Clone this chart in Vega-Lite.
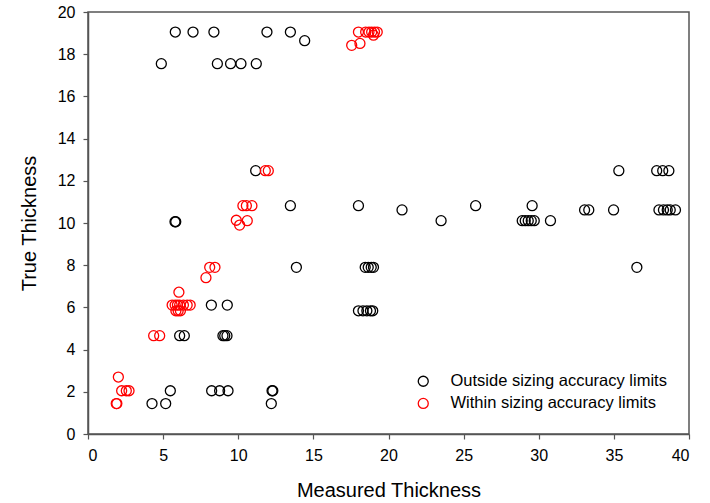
{
  "$schema": "https://vega.github.io/schema/vega-lite/v6.json",
  "width": 601,
  "height": 422,
  "autosize": {"type": "none"},
  "padding": {"left": 88, "top": 12, "right": 21, "bottom": 69},
  "background": "white",
  "config": {
    "font": "Liberation Sans",
    "view": {"stroke": "#555555", "strokeWidth": 1.5},
    "axis": {
      "grid": false,
      "domainColor": "#555555",
      "domainWidth": 1.5,
      "tickColor": "#555555",
      "tickWidth": 1.2,
      "tickSize": 5,
      "labelFont": "Liberation Sans",
      "labelFontSize": 16,
      "labelColor": "black",
      "labelPadding": 8,
      "titleFont": "Liberation Sans",
      "titleFontSize": 20,
      "titleFontWeight": "normal",
      "titleColor": "black"
    }
  },
  "data": {
    "values": [
      {"m": 5.81, "t": 19.05, "g": "Outside sizing accuracy limits"},
      {"m": 6.99, "t": 19.05, "g": "Outside sizing accuracy limits"},
      {"m": 8.38, "t": 19.05, "g": "Outside sizing accuracy limits"},
      {"m": 11.91, "t": 19.05, "g": "Outside sizing accuracy limits"},
      {"m": 13.47, "t": 19.05, "g": "Outside sizing accuracy limits"},
      {"m": 14.42, "t": 18.64, "g": "Outside sizing accuracy limits"},
      {"m": 4.88, "t": 17.55, "g": "Outside sizing accuracy limits"},
      {"m": 8.61, "t": 17.55, "g": "Outside sizing accuracy limits"},
      {"m": 9.49, "t": 17.55, "g": "Outside sizing accuracy limits"},
      {"m": 10.18, "t": 17.55, "g": "Outside sizing accuracy limits"},
      {"m": 11.2, "t": 17.55, "g": "Outside sizing accuracy limits"},
      {"m": 11.16, "t": 12.48, "g": "Outside sizing accuracy limits"},
      {"m": 35.33, "t": 12.48, "g": "Outside sizing accuracy limits"},
      {"m": 37.85, "t": 12.48, "g": "Outside sizing accuracy limits"},
      {"m": 38.25, "t": 12.48, "g": "Outside sizing accuracy limits"},
      {"m": 38.66, "t": 12.48, "g": "Outside sizing accuracy limits"},
      {"m": 13.47, "t": 10.82, "g": "Outside sizing accuracy limits"},
      {"m": 18.0, "t": 10.82, "g": "Outside sizing accuracy limits"},
      {"m": 25.8, "t": 10.82, "g": "Outside sizing accuracy limits"},
      {"m": 29.56, "t": 10.82, "g": "Outside sizing accuracy limits"},
      {"m": 20.9, "t": 10.62, "g": "Outside sizing accuracy limits"},
      {"m": 33.05, "t": 10.62, "g": "Outside sizing accuracy limits"},
      {"m": 33.33, "t": 10.62, "g": "Outside sizing accuracy limits"},
      {"m": 34.98, "t": 10.62, "g": "Outside sizing accuracy limits"},
      {"m": 38.0, "t": 10.62, "g": "Outside sizing accuracy limits"},
      {"m": 38.3, "t": 10.62, "g": "Outside sizing accuracy limits"},
      {"m": 38.55, "t": 10.62, "g": "Outside sizing accuracy limits"},
      {"m": 38.75, "t": 10.62, "g": "Outside sizing accuracy limits"},
      {"m": 39.1, "t": 10.62, "g": "Outside sizing accuracy limits"},
      {"m": 23.5, "t": 10.11, "g": "Outside sizing accuracy limits"},
      {"m": 28.9, "t": 10.11, "g": "Outside sizing accuracy limits"},
      {"m": 29.1, "t": 10.11, "g": "Outside sizing accuracy limits"},
      {"m": 29.3, "t": 10.11, "g": "Outside sizing accuracy limits"},
      {"m": 29.5, "t": 10.11, "g": "Outside sizing accuracy limits"},
      {"m": 29.7, "t": 10.11, "g": "Outside sizing accuracy limits"},
      {"m": 30.78, "t": 10.11, "g": "Outside sizing accuracy limits"},
      {"m": 5.79, "t": 10.06, "g": "Outside sizing accuracy limits"},
      {"m": 5.84, "t": 10.06, "g": "Outside sizing accuracy limits"},
      {"m": 13.87, "t": 7.9, "g": "Outside sizing accuracy limits"},
      {"m": 18.45, "t": 7.9, "g": "Outside sizing accuracy limits"},
      {"m": 18.65, "t": 7.9, "g": "Outside sizing accuracy limits"},
      {"m": 18.85, "t": 7.9, "g": "Outside sizing accuracy limits"},
      {"m": 19.0, "t": 7.9, "g": "Outside sizing accuracy limits"},
      {"m": 36.53, "t": 7.9, "g": "Outside sizing accuracy limits"},
      {"m": 8.21, "t": 6.11, "g": "Outside sizing accuracy limits"},
      {"m": 9.27, "t": 6.11, "g": "Outside sizing accuracy limits"},
      {"m": 18.0, "t": 5.84, "g": "Outside sizing accuracy limits"},
      {"m": 18.3, "t": 5.84, "g": "Outside sizing accuracy limits"},
      {"m": 18.56, "t": 5.84, "g": "Outside sizing accuracy limits"},
      {"m": 18.8, "t": 5.84, "g": "Outside sizing accuracy limits"},
      {"m": 18.95, "t": 5.84, "g": "Outside sizing accuracy limits"},
      {"m": 6.1, "t": 4.66, "g": "Outside sizing accuracy limits"},
      {"m": 6.41, "t": 4.66, "g": "Outside sizing accuracy limits"},
      {"m": 8.98, "t": 4.66, "g": "Outside sizing accuracy limits"},
      {"m": 9.1, "t": 4.66, "g": "Outside sizing accuracy limits"},
      {"m": 9.25, "t": 4.66, "g": "Outside sizing accuracy limits"},
      {"m": 5.48, "t": 2.05, "g": "Outside sizing accuracy limits"},
      {"m": 8.23, "t": 2.05, "g": "Outside sizing accuracy limits"},
      {"m": 8.76, "t": 2.05, "g": "Outside sizing accuracy limits"},
      {"m": 9.32, "t": 2.05, "g": "Outside sizing accuracy limits"},
      {"m": 12.25, "t": 2.05, "g": "Outside sizing accuracy limits"},
      {"m": 12.3, "t": 2.05, "g": "Outside sizing accuracy limits"},
      {"m": 4.26, "t": 1.44, "g": "Outside sizing accuracy limits"},
      {"m": 5.17, "t": 1.44, "g": "Outside sizing accuracy limits"},
      {"m": 12.2, "t": 1.44, "g": "Outside sizing accuracy limits"},
      {"m": 18.0, "t": 19.05, "g": "Within sizing accuracy limits"},
      {"m": 18.48, "t": 19.05, "g": "Within sizing accuracy limits"},
      {"m": 18.7, "t": 19.05, "g": "Within sizing accuracy limits"},
      {"m": 18.88, "t": 19.05, "g": "Within sizing accuracy limits"},
      {"m": 19.07, "t": 19.05, "g": "Within sizing accuracy limits"},
      {"m": 19.25, "t": 19.05, "g": "Within sizing accuracy limits"},
      {"m": 19.0, "t": 18.9, "g": "Within sizing accuracy limits"},
      {"m": 17.55, "t": 18.42, "g": "Within sizing accuracy limits"},
      {"m": 18.1, "t": 18.51, "g": "Within sizing accuracy limits"},
      {"m": 11.8, "t": 12.48, "g": "Within sizing accuracy limits"},
      {"m": 12.0, "t": 12.48, "g": "Within sizing accuracy limits"},
      {"m": 10.31, "t": 10.82, "g": "Within sizing accuracy limits"},
      {"m": 10.54, "t": 10.82, "g": "Within sizing accuracy limits"},
      {"m": 10.91, "t": 10.82, "g": "Within sizing accuracy limits"},
      {"m": 9.87, "t": 10.13, "g": "Within sizing accuracy limits"},
      {"m": 10.6, "t": 10.11, "g": "Within sizing accuracy limits"},
      {"m": 10.09, "t": 9.9, "g": "Within sizing accuracy limits"},
      {"m": 8.1, "t": 7.9, "g": "Within sizing accuracy limits"},
      {"m": 8.45, "t": 7.9, "g": "Within sizing accuracy limits"},
      {"m": 7.85, "t": 7.41, "g": "Within sizing accuracy limits"},
      {"m": 6.05, "t": 6.72, "g": "Within sizing accuracy limits"},
      {"m": 5.6, "t": 6.11, "g": "Within sizing accuracy limits"},
      {"m": 5.8, "t": 6.11, "g": "Within sizing accuracy limits"},
      {"m": 5.95, "t": 6.11, "g": "Within sizing accuracy limits"},
      {"m": 6.1, "t": 6.11, "g": "Within sizing accuracy limits"},
      {"m": 6.35, "t": 6.11, "g": "Within sizing accuracy limits"},
      {"m": 6.6, "t": 6.11, "g": "Within sizing accuracy limits"},
      {"m": 6.8, "t": 6.11, "g": "Within sizing accuracy limits"},
      {"m": 5.85, "t": 5.84, "g": "Within sizing accuracy limits"},
      {"m": 6.0, "t": 5.84, "g": "Within sizing accuracy limits"},
      {"m": 6.15, "t": 5.84, "g": "Within sizing accuracy limits"},
      {"m": 4.37, "t": 4.66, "g": "Within sizing accuracy limits"},
      {"m": 4.77, "t": 4.66, "g": "Within sizing accuracy limits"},
      {"m": 2.02, "t": 2.7, "g": "Within sizing accuracy limits"},
      {"m": 2.24, "t": 2.05, "g": "Within sizing accuracy limits"},
      {"m": 2.55, "t": 2.05, "g": "Within sizing accuracy limits"},
      {"m": 2.73, "t": 2.05, "g": "Within sizing accuracy limits"},
      {"m": 1.88, "t": 1.44, "g": "Within sizing accuracy limits"},
      {"m": 1.92, "t": 1.44, "g": "Within sizing accuracy limits"}
    ]
  },
  "mark": {"type": "point", "shape": "circle", "filled": false, "size": 100, "strokeWidth": 1.3, "opacity": 1},
  "encoding": {
    "x": {
      "field": "m",
      "type": "quantitative",
      "title": "Measured Thickness",
      "scale": {"domain": [0, 40], "nice": false, "zero": false},
      "axis": {"values": [0, 5, 10, 15, 20, 25, 30, 35, 40], "titlePadding": 17}
    },
    "y": {
      "field": "t",
      "type": "quantitative",
      "title": "True Thickness",
      "scale": {"domain": [0, 20], "nice": false, "zero": false},
      "axis": {"values": [0, 2, 4, 6, 8, 10, 12, 14, 16, 18, 20], "titlePadding": 18}
    },
    "color": {
      "field": "g",
      "type": "nominal",
      "scale": {
        "domain": ["Outside sizing accuracy limits", "Within sizing accuracy limits"],
        "range": ["black", "red"]
      },
      "legend": {
        "title": null,
        "orient": "none",
        "legendX": 327,
        "legendY": 361,
        "padding": 0,
        "symbolType": "circle",
        "symbolSize": 100,
        "symbolStrokeWidth": 1.3,
        "symbolFillColor": "transparent",
        "labelFont": "Liberation Sans",
        "labelFontSize": 16.5,
        "labelColor": "black",
        "labelOffset": 19,
        "rowPadding": 5.2,
        "labelLimit": 400
      }
    }
  }
}
